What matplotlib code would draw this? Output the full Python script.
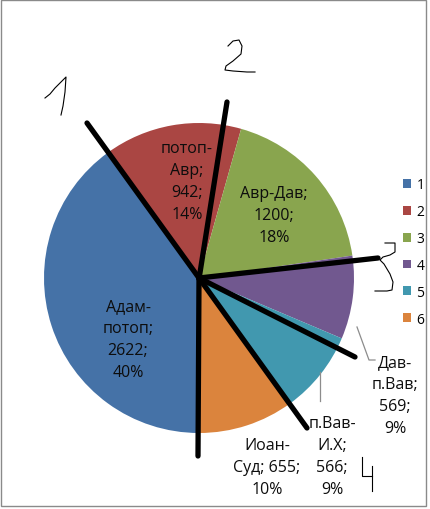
import numpy as np
import matplotlib
matplotlib.use("Agg")
import matplotlib.pyplot as plt
from matplotlib.patches import Rectangle

plt.rcParams['font.family'] = ['Open Sans', 'DejaVu Sans']

# periods and their durations (years)
periods = ['Адам-потоп', 'потоп-Авр', 'Авр-Дав', 'Дав-п.Вав', 'п.Вав-И.Х', 'Иоан-Суд']
values = [2622, 942, 1200, 569, 566, 655]
legend_labels = ['1', '2', '3', '4', '5', '6']
label_texts = ['Адам-\nпотоп;\n2622;\n40%', 'потоп-\nАвр;\n942;\n14%', 'Авр-Дав;\n1200;\n18%',
               'Дав-\nп.Вав;\n569;\n9%', 'п.Вав-\nИ.Х;\n566;\n9%', 'Иоан-\nСуд; 655;\n10%']
colors = ['#4572A7', '#AA4643', '#89A54E', '#71588F', '#4198AF', '#DB843D']

W, H = 430, 510
CX, CY, R = 199, 279, 155


def px(x, y):
    # image pixel -> pie data coords
    return (x - CX) / R, (CY - y) / R


fig = plt.figure(figsize=(W / 100, H / 100), dpi=100)
ax = fig.add_axes([(CX - R) / W, (H - CY - R) / H, 2 * R / W, 2 * R / H])
wedges, _ = ax.pie(values, colors=colors, startangle=-90, counterclock=False,
                   radius=1, wedgeprops=dict(linewidth=0))
ax.set_xlim(-1, 1)
ax.set_ylim(-1, 1)
ax.axis('off')

# data labels (Excel-like placement)
label_pos = [(128, 340), (187, 182), (274, 216), (395, 396), (332, 457), (267, 468)]
for txt, (lx, ly) in zip(label_texts, label_pos):
    x, y = px(lx, ly)
    ax.text(x, y, txt, ha='center', va='center', fontsize=11.5,
            linespacing=1.5, color='#0d0d0d', clip_on=False)

# leader lines
for seg in [[(357, 328), (369, 361), (375, 361)], [(320, 373), (320, 402)]]:
    xs, ys = zip(*[px(a, b) for a, b in seg])
    ax.plot(xs, ys, color='#8c8c8c', lw=0.9, clip_on=False)

# legend
fig.legend(wedges, legend_labels, loc='center left',
           bbox_to_anchor=(390 / W, 1 - 253 / H), frameon=False,
           fontsize=10, handlelength=0.6, handleheight=0.6,
           handletextpad=0.4, labelspacing=0.85)

# hand-drawn marks on top of the chart
thick = [[(87, 124), (199, 279)], [(227, 103), (199, 280)], [(378, 259), (199, 279)],
         [(355, 358), (199, 279)], [(307, 429), (199, 279)], [(198, 457), (199, 279)]]
for seg in thick:
    xs, ys = zip(*[px(a, b) for a, b in seg])
    ax.plot(xs, ys, color='black', lw=3.8, solid_capstyle='round', clip_on=False)

thin = [
    [(45, 99), (50, 95), (55, 89), (59, 85), (66, 78), (65, 93), (63, 107), (61, 116)],
    [(228, 47), (233, 42), (239, 41), (242, 47), (241, 55), (233, 62), (226, 67),
     (225, 71), (233, 72), (247, 73), (255, 73)],
    [(385, 244), (395, 244), (395, 253), (390, 256), (383, 258), (380, 261), (384, 265),
     (390, 275), (393, 283), (392, 291), (387, 292), (375, 292)],
    [(362, 458), (362, 477), (372, 477)],
    [(372, 467), (372, 492)],
]
for seg in thin:
    xs, ys = zip(*[px(a, b) for a, b in seg])
    ax.plot(xs, ys, color='black', lw=0.8, clip_on=False)

# chart area border
fig.patches.append(Rectangle((1 / W, 1 - 507 / H), 425 / W, 506 / H,
                             transform=fig.transFigure, fill=False,
                             edgecolor='#8a8a8a', lw=1))

fig.savefig('out.png', dpi=100)
